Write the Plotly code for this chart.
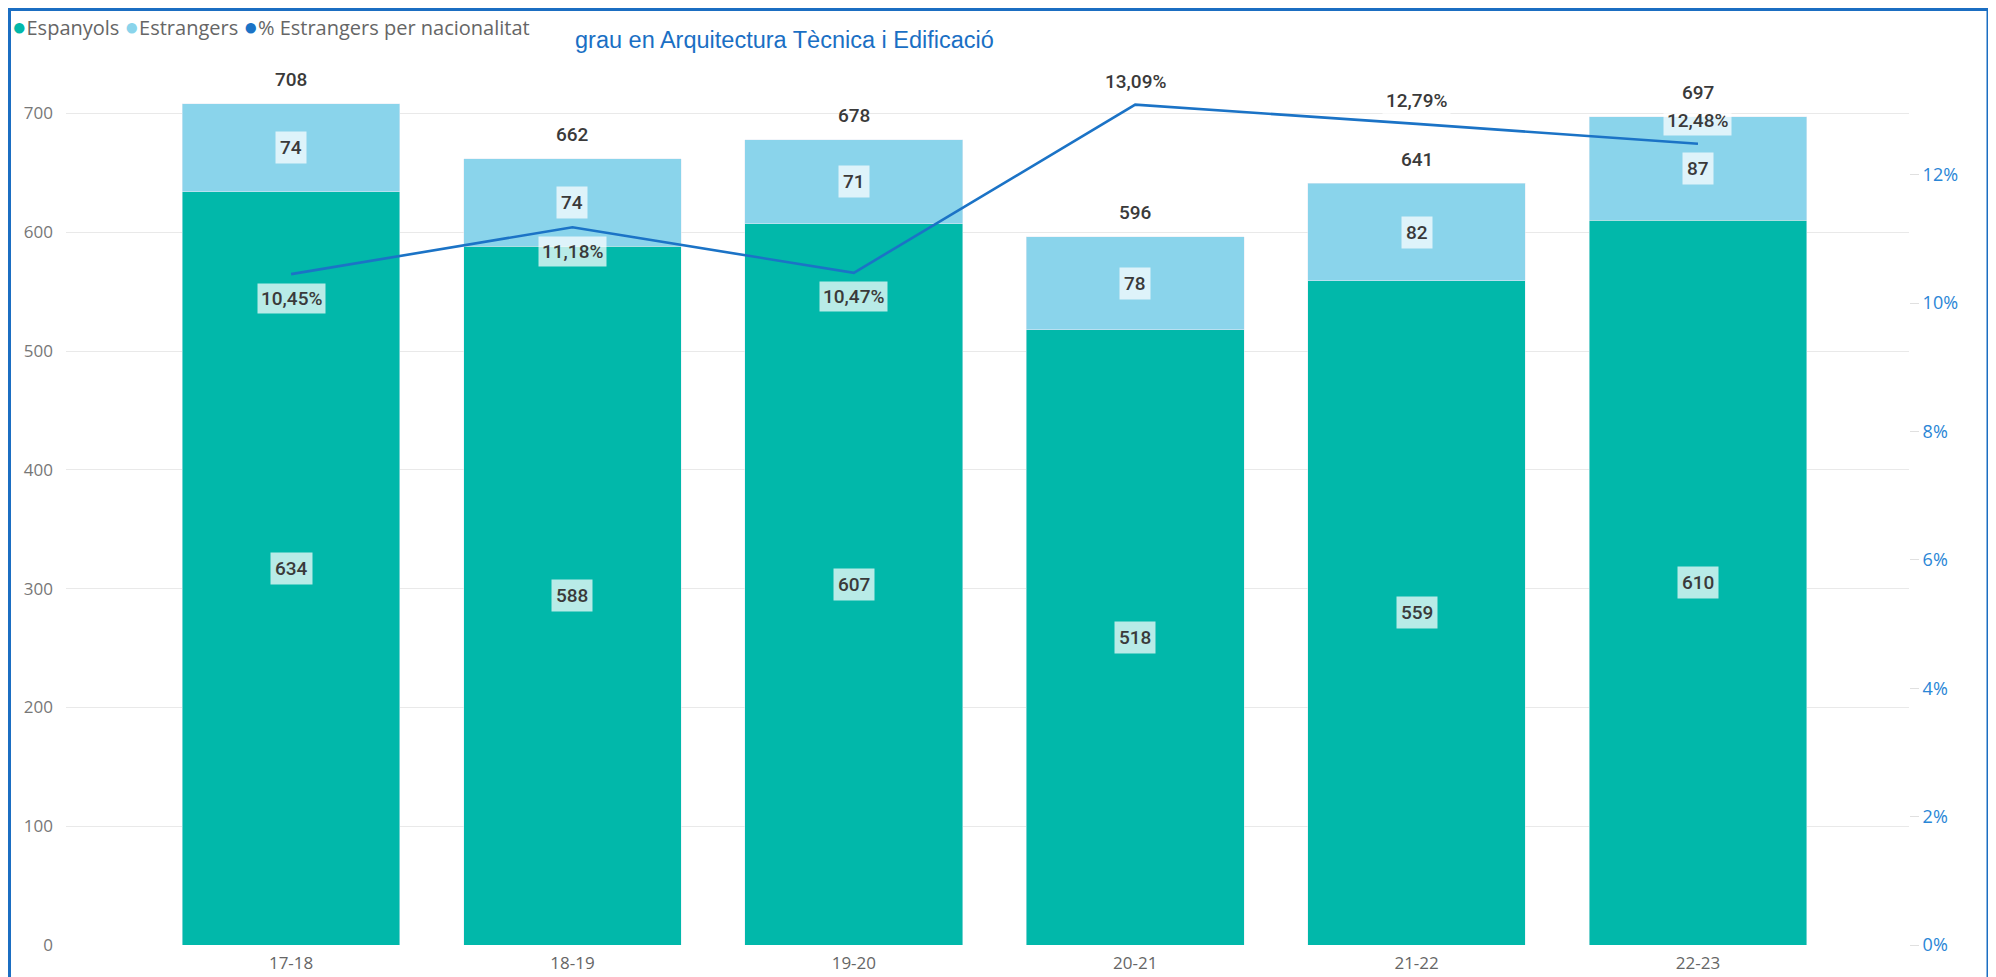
import plotly.graph_objects as go

# ---- data ----
cursos = ["17-18", "18-19", "19-20", "20-21", "21-22", "22-23"]
espanyols = [634, 588, 607, 518, 559, 610]
estrangers = [74, 74, 71, 78, 82, 87]
totals = [708, 662, 678, 596, 641, 697]
pct_estrangers = [10.45, 11.18, 10.47, 13.09, 12.79, 12.48]
pct_label_above = [False, False, False, True, True, True]

C_ESP = "#01B8AA"
C_EST = "#8AD4EB"
C_LINE = "#1B73C6"
LBL_FONT = dict(family="Roboto", size=19, color="#3a3a3a", weight=500)
BOX = "rgba(255,255,255,0.72)"

OFF = 8  # page body margin
WIN_W, WIN_H = 1996, 977
W, H = WIN_W - OFF, WIN_H - OFF
# plot area in window pixels
PL, PR, PT, PB = 66, 1909, 80, 945
ML, MR, MT, MB = PL - OFF, W - (PR - OFF), PT - OFF, H - (PB - OFF)

fig = go.Figure()
fig.add_trace(go.Bar(x=cursos, y=espanyols, name="Espanyols", marker_color=C_ESP,
                     showlegend=False, width=0.774))
fig.add_trace(go.Bar(x=cursos, y=estrangers, name="Estrangers", marker_color=C_EST,
                     showlegend=False, width=0.774))
fig.add_trace(go.Scatter(x=cursos, y=pct_estrangers, name="% Estrangers per nacionalitat",
                         mode="lines", line=dict(color=C_LINE, width=2.6),
                         yaxis="y2", showlegend=False))

pw = PR - PL
ph = PB - PT
def px(p):
    return (p - PL) / pw
def py(p):
    return (PB - p) / ph

ann = []
def fmt_pct(v):
    return f"{v:.2f}".replace(".", ",") + "%"

for i, c in enumerate(cursos):
    ann.append(dict(x=c, y=espanyols[i] / 2, xref="x", yref="y", text=str(espanyols[i]),
                    showarrow=False, font=LBL_FONT, bgcolor=BOX, borderpad=4))
    ann.append(dict(x=c, y=espanyols[i] + estrangers[i] / 2, xref="x", yref="y",
                    text=str(estrangers[i]), showarrow=False, font=LBL_FONT,
                    bgcolor=BOX, borderpad=4))
    ann.append(dict(x=c, y=totals[i], xref="x", yref="y", text=str(totals[i]),
                    showarrow=False, font=LBL_FONT, yshift=24))
    ann.append(dict(x=c, y=pct_estrangers[i], xref="x", yref="y2",
                    text=fmt_pct(pct_estrangers[i]), showarrow=False, font=LBL_FONT,
                    bgcolor=BOX, borderpad=3,
                    yshift=23 if pct_label_above[i] else -24))

# legend as rich text
dot = "<span style='color:{c};font-size:24px'>●</span>"
legend_txt = (dot.format(c=C_ESP) + "Espanyols " + dot.format(c=C_EST) + "Estrangers "
              + dot.format(c=C_LINE) + "% Estrangers per nacionalitat")
ann.append(dict(x=px(10), y=py(26), xref="paper", yref="paper", text=legend_txt,
                showarrow=False, xanchor="left", yanchor="middle",
                font=dict(family="Open Sans", size=20, color="#666")))

ann.append(dict(x=px(784), y=py(40), xref="paper", yref="paper",
                text="grau en Arquitectura Tècnica i Edificació", showarrow=False,
                xanchor="center", yanchor="middle",
                font=dict(family="Liberation Sans", size=23.5, color="#1a6fc4")))

fig.update_layout(
    width=W, height=H,
    margin=dict(l=ML, r=MR, t=MT, b=MB),
    barmode="stack",
    plot_bgcolor="white", paper_bgcolor="white",
    showlegend=False,
    xaxis=dict(range=[-0.80, 5.75], showgrid=False, showline=False, ticks="",
               tickfont=dict(family="Open Sans", size=17, color="#666"),
               ticklabelstandoff=6, automargin=False),
    yaxis=dict(range=[0, ph / 1.188], dtick=100, showgrid=True,
               gridcolor="#E9E9E9", gridwidth=1, zeroline=False, showline=False,
               tickfont=dict(family="Open Sans", size=17, color="#777"),
               ticklabelstandoff=12, automargin=False),
    yaxis2=dict(range=[0, ph / 64.2], dtick=2, overlaying="y", side="right",
                showgrid=False, zeroline=False, showline=False, ticksuffix="%",
                ticks="outside", ticklen=9, tickcolor="#E0E0E0", automargin=False,
                tickfont=dict(family="Open Sans", size=18, color="#2A86D6")),
    annotations=ann,
    shapes=[dict(type="rect", xref="paper", yref="paper",
                 x0=px(9.5), x1=px(1988), y0=py(995), y1=py(9.5),
                 line=dict(color="#1B6EC2", width=3), fillcolor="rgba(0,0,0,0)")],
)

fig.write_html("out.html")
